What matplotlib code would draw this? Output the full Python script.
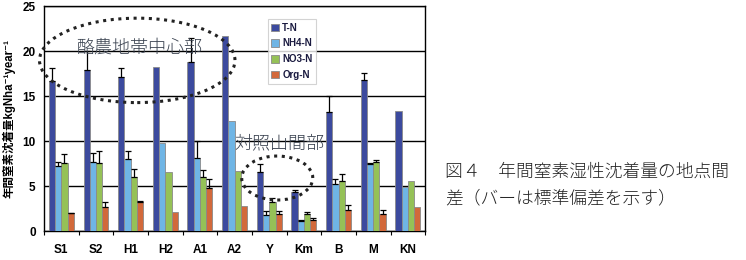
import matplotlib
matplotlib.use("Agg")
import matplotlib.pyplot as plt
import numpy as np
from matplotlib.patches import Ellipse

plt.rcParams['font.family'] = ['Liberation Sans', 'Noto Sans CJK JP', 'DejaVu Sans']

sites = ["S1", "S2", "H1", "H2", "A1", "A2", "Y", "Km", "B", "M", "KN"]
series = ["T-N", "NH4-N", "NO3-N", "Org-N"]
tn = [16.7, 17.9, 17.2, 18.3, 18.8, 21.7, 6.6, 4.3, 13.3, 16.85, 13.4]
nh4 = [7.2, 7.7, 8.0, 9.75, 8.1, 12.2, 1.75, 1.1, 5.2, 7.45, 4.9]
no3 = [7.6, 7.55, 6.0, 6.55, 6.0, 6.7, 3.2, 1.85, 5.6, 7.7, 5.6]
org = [1.95, 2.65, 3.2, 2.1, 4.8, 2.8, 1.9, 1.2, 2.35, 1.9, 2.65]
tn_sd = [1.4, 2.1, 1.0, 0, 2.7, 0, 0.9, 0.25, 1.7, 0.7, 0]
nh4_sd = [0.5, 1.0, 0.95, 0, 1.95, 0, 0.5, 0.1, 0.55, 0.15, 0]
no3_sd = [1.0, 1.35, 0.95, 0, 0.75, 0, 0.5, 0.25, 0.7, 0.25, 0]
org_sd = [0.1, 0.55, 0.1, 0, 0.95, 0, 0.3, 0.3, 0.55, 0.4, 0]

values = [tn, nh4, no3, org]
sds = [tn_sd, nh4_sd, no3_sd, org_sd]
colors = ["#3C4A9E", "#6FB5E5", "#95C157", "#D2693B"]

fig = plt.figure(figsize=(7.46, 2.6), dpi=100)
ax = fig.add_axes([0.059, 0.1115, 0.511, 0.8635])

x = np.arange(len(sites))
w = 0.18
for i, (v, s, c, name) in enumerate(zip(values, sds, colors, series)):
    pos = x + (i - 1.5) * w
    ax.bar(pos, v, width=w, color=c, edgecolor="#8a8a8a", linewidth=0.6,
           label=name, zorder=3)
    s = np.array(s)
    mask = s > 0
    ax.errorbar(pos[mask], np.array(v)[mask],
                yerr=[np.zeros(mask.sum()), s[mask]],
                fmt="none", ecolor="black", elinewidth=0.9, capsize=2.5,
                capthick=0.9, zorder=4)

ax.set_xlim(-0.5, len(sites) - 0.5)
ax.set_ylim(0, 25)
ax.set_yticks([0, 5, 10, 15, 20, 25])
ax.yaxis.grid(True, color="black", linewidth=1.0, zorder=0)
ax.set_axisbelow(True)
ax.tick_params(axis="y", length=0, pad=6, labelsize=8.5)
ax.set_xticks(x)
ax.set_xticklabels(sites)
ax.set_xticks(np.arange(-0.5, len(sites), 1), minor=True)
ax.tick_params(axis="x", which="major", length=0, pad=9, labelsize=8.5)
ax.tick_params(axis="x", which="minor", length=3, width=0.8, direction="out")
for lab in ax.get_xticklabels() + ax.get_yticklabels():
    lab.set_fontweight("bold")
for sp in ax.spines.values():
    sp.set_linewidth(1.0)
    sp.set_color("black")

ax.set_ylabel("年間窒素沈着量kgNha\u207b\u00b9year\u207b\u00b9",
              fontsize=8.3, fontweight="bold",
              family=["Liberation Sans", "Noto Sans CJK JP", "DejaVu Sans"])
ax.yaxis.set_label_coords(-0.074, 0.5)

leg = ax.legend(loc="upper left", bbox_to_anchor=(0.575, 0.965), frameon=True,
                fancybox=False, edgecolor="#c8c8c8", fontsize=7,
                handlelength=0.8, handleheight=0.8, handletextpad=0.3,
                borderpad=0.35, labelspacing=0.6)
leg.get_frame().set_linewidth(0.8)
for t in leg.get_texts():
    t.set_fontweight("bold")
    t.set_color("#1a1a40")

ax.add_patch(Ellipse((2.19, 19.0), 5.64, 9.4, fill=False, linestyle=(0, (1, 1.5)),
                     linewidth=2.2, edgecolor="#222222", clip_on=False, zorder=5))
ax.add_patch(Ellipse((6.23, 5.9), 2.05, 4.9, fill=False, linestyle=(0, (1, 1.5)),
                     linewidth=2.2, edgecolor="#222222", clip_on=False, zorder=5))
ax.text(2.24, 20.4, "酪農地帯中心部", fontsize=13, ha="center", va="center",
        color="#3a4250", family=["Noto Sans CJK JP"], fontweight="light", zorder=6)
ax.text(6.29, 9.8, "対照山間部", fontsize=13, ha="center", va="center",
        color="#3a4250", family=["Noto Sans CJK JP"], fontweight="light", zorder=6)

fig.text(445 / 746, 1 - 172 / 260, "図４　年間窒素湿性沈着量の地点間",
         fontsize=12.8, ha="left", va="center", color="#222222",
         family=["Noto Sans CJK JP"], fontweight="light")
fig.text(445 / 746, 1 - 198 / 260, "差（バーは標準偏差を示す）",
         fontsize=12.8, ha="left", va="center", color="#222222",
         family=["Noto Sans CJK JP"], fontweight="light")

fig.savefig("out.png", dpi=100)
